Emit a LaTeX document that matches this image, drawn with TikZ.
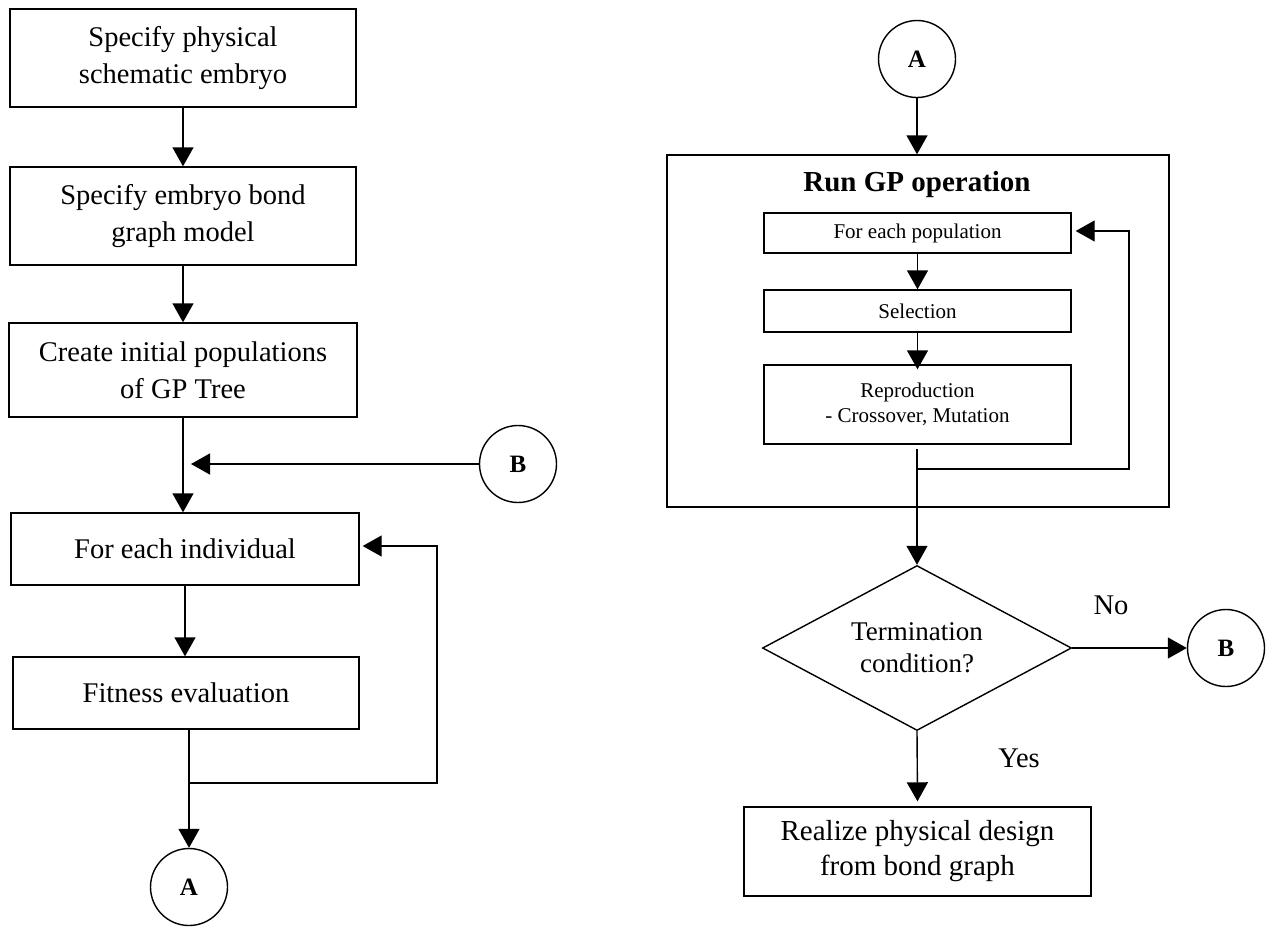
\documentclass[tikz,border=0pt]{standalone}
\usepackage{fontspec}
\setmainfont{Liberation Serif}
\usetikzlibrary{arrows.meta,shapes.geometric}
\begin{document}
\begin{tikzpicture}[x=1pt,y=-1pt,
  line width=1.4pt,
  arr/.style={-{Triangle[length=19pt,width=21pt]}},
  box/.style={draw,rectangle,inner sep=0pt,align=center,font=\fontsize{28.5}{37}\selectfont},
  sbox/.style={draw,rectangle,inner sep=0pt,align=center,font=\fontsize{21}{25}\selectfont},
  conn/.style={draw,circle,minimum size=77pt,inner sep=0pt,font=\fontsize{25}{25}\selectfont\bfseries},
  lbl/.style={inner sep=0pt,font=\fontsize{28.5}{30}\selectfont}]
\useasboundingbox (0,0) rectangle (1266,927);

% left column
\node[box,minimum width=346pt,minimum height=98pt] (b1) at (183,58) {Specify physical\\schematic embryo};
\node[box,minimum width=346pt,minimum height=98pt] (b2) at (183,216) {Specify embryo bond\\graph model};
\node[box,minimum width=348pt,minimum height=94pt] (b3) at (183,370) {Create initial populations\\of GP Tree};
\node[box,minimum width=348pt,minimum height=72pt] (b4) at (185,549) {For each individual};
\node[box,minimum width=346pt,minimum height=72pt] (b5) at (186,693) {Fitness evaluation};
\node[conn] (A1) at (189,887) {A};
\node[conn] (B1) at (518,464) {B};

\draw[arr] (b1.south) -- (b1.south |- b2.north);
\draw[arr] (b2.south) -- (b2.south |- b3.north);
\draw[arr] (b3.south) -- (b3.south |- b4.north);
\coordinate (j1) at (183,464);
\draw[arr] (B1) -- ([xshift=8pt]j1);
\draw[arr] (b4.south) -- (b4.south |- b5.north);
\coordinate (j2) at (189,783);
\coordinate (fl1) at (437,783);
\coordinate (fl2) at (437,546);
\draw[arr] (j2) -- (fl1) -- (fl2) -- ([xshift=3pt]b4.east |- fl2);
\draw[arr] (A1.north |- b5.south) -- (A1.north);

% right column
\node[conn] (A2) at (917,59) {A};
\node[draw,rectangle,inner sep=0pt,minimum width=502pt,minimum height=352pt] (gp) at (918,331) {};
\node[inner sep=0pt,font=\fontsize{29}{29}\selectfont\bfseries] (title) at (917,185) {Run GP operation};
\node[sbox,minimum width=307pt,minimum height=40pt] (p1) at (917.5,233) {For each population};
\node[sbox,minimum width=307pt,minimum height=42pt] (p2) at (917.5,311) {Selection};
\node[sbox,minimum width=307pt,minimum height=79pt] (p3) at (917.5,404.5) {Reproduction\\- Crossover, Mutation};
\node[draw,diamond,inner sep=0pt,minimum width=309pt,minimum height=165pt,aspect=1.87,align=center,font=\fontsize{27}{32}\selectfont] (d) at (917,648) {Termination\\condition?};
\node[conn] (B2) at (1226,648) {B};
\node[box,minimum width=347pt,minimum height=89pt,font=\fontsize{29}{35}\selectfont] (f) at (917.5,851.5) {Realize physical design\\from bond graph};
\node[lbl] (no) at (1111,605) {No};
\node[lbl] (yes) at (1019,758) {Yes};

\draw[arr] (A2) -- (A2 |- gp.north);
\draw[arr] (p1.south) -- (p1.south |- p2.north);
\draw[arr] (p2.south) -- ([yshift=-5pt]p2.south |- p3.north);
\coordinate (r1) at (917,449);
\coordinate (r2) at (917,469);
\coordinate (r3) at (1129,469);
\coordinate (r4) at (1129,231);
\draw[arr] (r2) -- (r3) -- (r4) -- ([xshift=4pt]p1.east |- r4);
\draw[arr] (r1) -- (d.north);
\draw[arr] (d.east) -- (B2);
\draw[arr] (d.south) -- ([yshift=5pt]f.north);
\end{tikzpicture}
\end{document}
